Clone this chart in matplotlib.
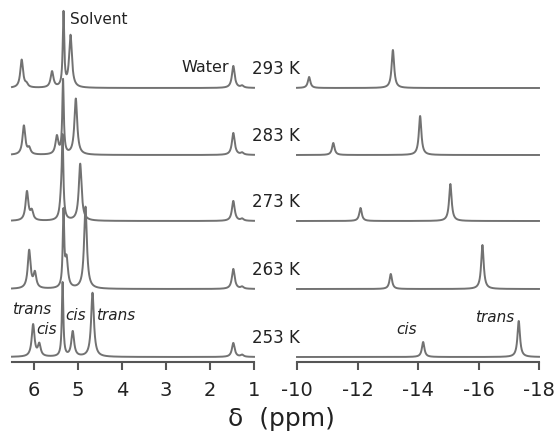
import numpy as np
import matplotlib
matplotlib.use("Agg")
import matplotlib.pyplot as plt

plt.rcParams['font.family'] = ['DejaVu Sans']
plt.rcParams['axes.unicode_minus'] = False

# temperatures, top to bottom
temps = [293, 283, 273, 263, 253]

# 1H NMR low-field region: (shift ppm, height) per temperature
trans_a_pos = [6.28, 6.23, 6.16, 6.11, 6.02]
trans_a_h = [28, 29, 29, 38, 32]
cis_a_pos = [6.17, 6.11, 6.05, 5.98, 5.88]
cis_a_h = [3, 6, 9, 15, 12]
cis_b_pos = [5.59, 5.48, 5.38, 5.26, 5.12]
cis_b_h = [16, 18, 20, 28, 25]
trans_b_pos = [5.17, 5.05, 4.95, 4.83, 4.67]
trans_b_h = [52, 56, 57, 82, 64]
solvent_pos = [5.33, 5.34, 5.35, 5.33, 5.35]
solvent_h = [74, 74, 74, 74, 74]
water_pos = [1.47, 1.47, 1.47, 1.47, 1.47]
water_h = [22, 22, 20, 20, 14]

# hydride region
hyd_cis_pos = [-10.4, -11.2, -12.1, -13.1, -14.17]
hyd_cis_h = [11, 12, 13, 15, 15]
hyd_trans_pos = [-13.17, -14.07, -15.07, -16.13, -17.33]
hyd_trans_h = [38, 39, 37, 44, 36]

W, H = 556, 434
offsets = [274, 207, 141, 73, 5]
line_col = '#727272'
txt_col = '#222222'


def lorentz(x, x0, h, w):
    return h * w ** 2 / ((x - x0) ** 2 + w ** 2)


fig = plt.figure(figsize=(W / 100, H / 100), dpi=100)
ax_l = fig.add_axes([12 / W, 1 - 362 / H, (254 - 12) / W, 362 / H])
ax_r = fig.add_axes([297 / W, 1 - 362 / H, (539 - 297) / W, 362 / H])

xl = np.linspace(6.5, 1, 4000)
xr = np.linspace(-10, -18, 2000)

for i, t in enumerate(temps):
    yl = np.zeros_like(xl)
    yl += lorentz(xl, trans_a_pos[i], trans_a_h[i], 0.038)
    yl += lorentz(xl, cis_a_pos[i], cis_a_h[i], 0.038)
    yl += lorentz(xl, cis_b_pos[i], cis_b_h[i], 0.038)
    yl += lorentz(xl, trans_b_pos[i], trans_b_h[i], 0.038)
    yl += lorentz(xl, solvent_pos[i], solvent_h[i], 0.02)
    yl += lorentz(xl, water_pos[i], water_h[i], 0.038)
    yl += lorentz(xl, 1.27, 2, 0.04)
    ax_l.plot(xl, yl + offsets[i], color=line_col, lw=1.4, clip_on=False)

    yr = np.zeros_like(xr)
    yr += lorentz(xr, hyd_cis_pos[i], hyd_cis_h[i], 0.05)
    yr += lorentz(xr, hyd_trans_pos[i], hyd_trans_h[i], 0.05)
    ax_r.plot(xr, yr + offsets[i], color=line_col, lw=1.4, clip_on=False)

    fig.text(252 / W, 1 - (362 - offsets[i] - 19) / H, '%d K' % t,
             ha='left', va='center', fontsize=12, color=txt_col)

for ax, lim, ticks in [(ax_l, (6.5, 1), [6, 5, 4, 3, 2, 1]),
                       (ax_r, (-10, -18), [-10, -12, -14, -16, -18])]:
    ax.set_xlim(*lim)
    ax.set_ylim(0, 362)
    ax.set_xticks(ticks)
    ax.set_xticklabels([str(v) for v in ticks])
    ax.set_yticks([])
    for s in ['top', 'left', 'right']:
        ax.spines[s].set_visible(False)
    ax.spines['bottom'].set_color('#555555')
    ax.spines['bottom'].set_linewidth(1.5)
    ax.tick_params(axis='x', direction='out', length=6, width=1.5,
                   color='#555555', labelsize=14, labelcolor=txt_col, pad=8)
    ax.patch.set_alpha(0)

fig.text(281 / W, 1 - 419 / H, 'δ  (ppm)', ha='center', va='center', fontsize=18, color=txt_col)

fig.text(70 / W, 1 - 20 / H, 'Solvent', ha='left', va='center', fontsize=11, color=txt_col)
fig.text(229 / W, 1 - 68 / H, 'Water', ha='right', va='center', fontsize=11.5, color=txt_col)

it = dict(fontsize=11, style='italic', color=txt_col, va='center')
fig.text(12 / W, 1 - 310 / H, 'trans', ha='left', **it)
fig.text(36 / W, 1 - 329 / H, 'cis', ha='left', **it)
fig.text(65 / W, 1 - 316 / H, 'cis', ha='left', **it)
fig.text(96 / W, 1 - 316 / H, 'trans', ha='left', **it)
fig.text(396 / W, 1 - 330 / H, 'cis', ha='left', **it)
fig.text(475 / W, 1 - 318 / H, 'trans', ha='left', **it)

fig.savefig('out.png', dpi=100, facecolor='white')
